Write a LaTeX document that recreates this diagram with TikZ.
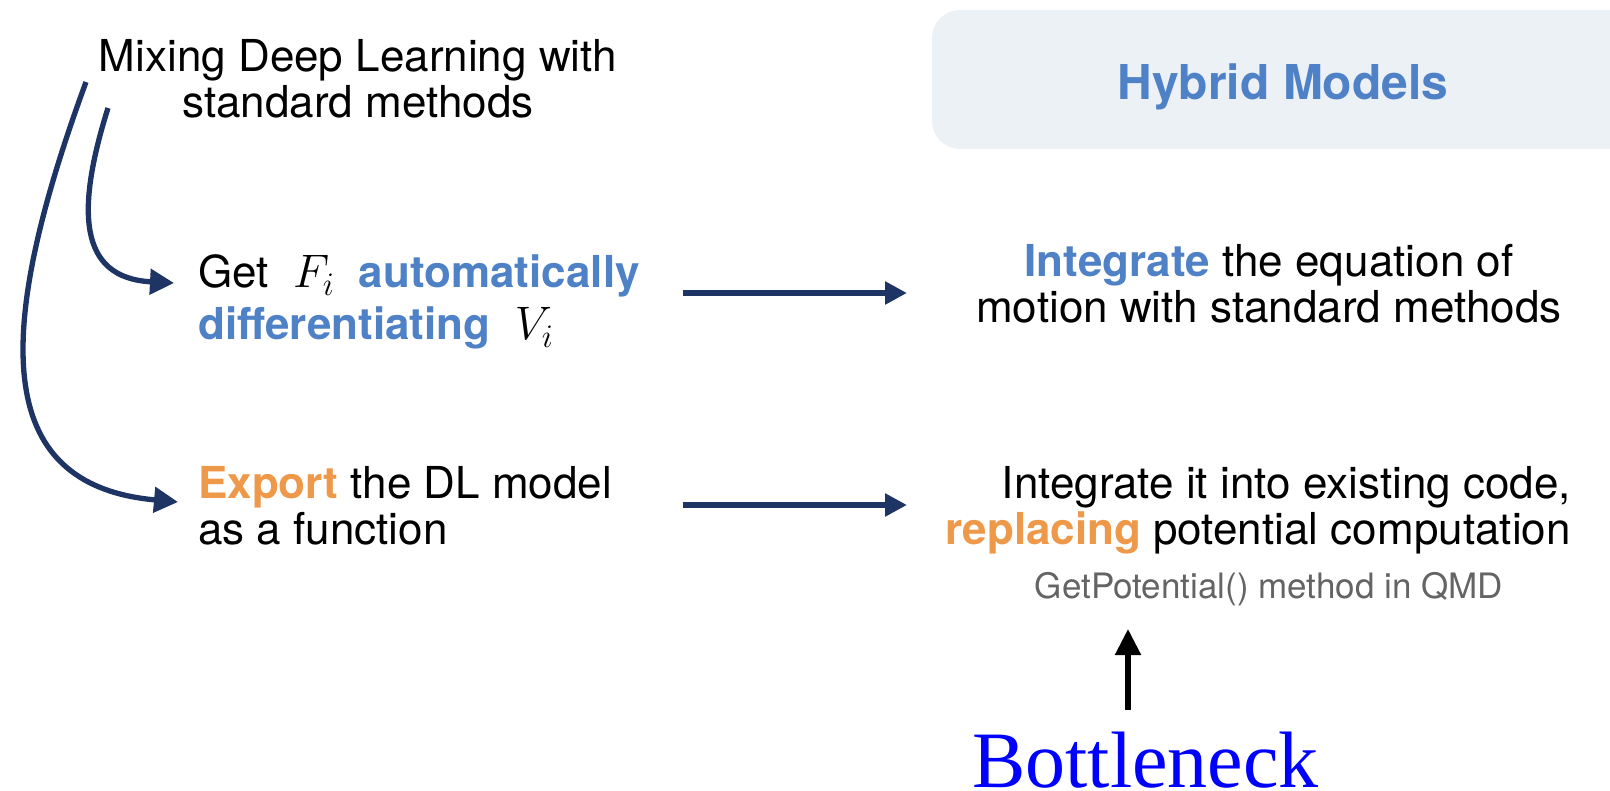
\RequirePackage{fix-cm}
\documentclass[tikz,border=0pt]{standalone}
\usepackage{fontspec}
\setmainfont{TeX Gyre Heros}
\newfontfamily\timesfont{Liberation Serif}
\usetikzlibrary{arrows.meta}
\definecolor{navy}{HTML}{1E3464}
\definecolor{hblue}{HTML}{4F81C7}
\definecolor{horange}{HTML}{EE984A}
\definecolor{hgray}{HTML}{646464}
\definecolor{boxfill}{HTML}{ECF1F6}
\definecolor{bneck}{HTML}{0000FF}
\newcommand{\hb}[1]{\textbf{\color{hblue}#1}}
\newcommand{\ho}[1]{\textbf{\color{horange}#1}}
\newcommand{\bigmath}[1]{{\fontsize{47}{46}\selectfont$#1$}}
\begin{document}
\begin{tikzpicture}[x=1pt,y=-1pt,
  txt/.style={inner sep=0pt, font=\fontsize{44}{46}\selectfont},
  curvearrow/.style={draw=navy, line width=5.3pt, -{Triangle[length=24pt,width=25pt]}},
  flowarrow/.style={draw=navy, line width=6pt, -{Triangle[length=22pt,width=22pt]}},
  blackarrow/.style={draw=black, line width=5.3pt, -{Triangle[length=26pt,width=25pt]}}
]
\useasboundingbox (0,0) rectangle (1610,791);
\begin{scope}
\clip (0,0) rectangle (1610,791);
\path[fill=boxfill, rounded corners=28pt] (932,10) rectangle (1645,149);
\end{scope}
\node[inner sep=0pt, font=\fontsize{48}{48}\selectfont\bfseries, text=hblue, anchor=base] (hyb) at (1283,100) {Hybrid Models};

\node[txt, align=center, anchor=base] (title) at (358,118) {Mixing Deep Learning with\\standard methods};
\node[txt, align=left, anchor=base west] (get) at (198,340) {Get \ \bigmath{F_i} \ \hb{automatically}\\[6pt]\hb{differentiating} \ \bigmath{V_i}};
\node[txt, align=center, anchor=base] (integ1) at (1269,323) {\hb{Integrate} the equation of\\motion with standard methods};
\node[txt, align=left, anchor=base west] (export) at (198,544) {\ho{Export} the DL model\\as a function};
\node[txt, align=right, anchor=base east] (integ2) at (1571,544) {Integrate it into existing code,\\\ho{replacing} potential computation};
\node[inner sep=0pt, font=\fontsize{35}{35}\selectfont, text=hgray, anchor=base] (getpot) at (1269,598) {GetPotential() method in QMD};
\node[inner sep=0pt, font=\timesfont\fontsize{80}{80}\selectfont, text=bneck, anchor=base west] (bneck) at (972,787) {Bottleneck};

\coordinate (c1s) at (108,108);
\coordinate (c1e) at (174,283);
\coordinate (c2s) at (86,82);
\coordinate (c2e) at (178,502);
\draw[curvearrow] (c1s) .. controls (76,210) and (78,278) .. (c1e);
\draw[curvearrow] (c2s) .. controls (-5,330) and (-10,485) .. (c2e);

\coordinate (h1s) at (683,293);
\coordinate (h1e) at (907,293);
\coordinate (h2s) at (683,505);
\coordinate (h2e) at (907,505);
\draw[flowarrow] (h1s) -- (h1e);
\draw[flowarrow] (h2s) -- (h2e);

\coordinate (bns) at (1128,710);
\coordinate (bne) at (1128,629);
\draw[blackarrow] (bns) -- (bne);
\end{tikzpicture}
\end{document}
